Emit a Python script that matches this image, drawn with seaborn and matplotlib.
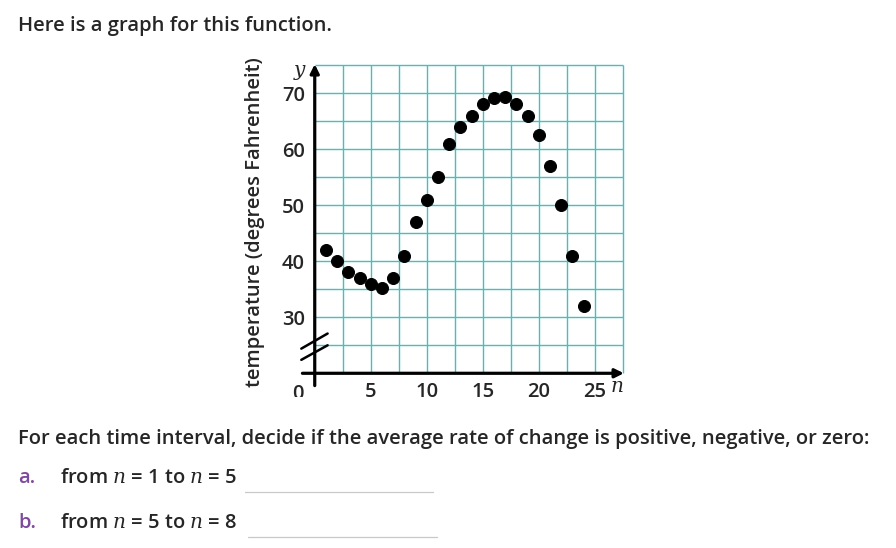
import matplotlib
matplotlib.use("Agg")
import matplotlib.pyplot as plt
import matplotlib.transforms as mtransforms
import seaborn as sns

# data
hours = list(range(1, 25))
temps = [42, 40, 38, 37, 36, 35.2, 37, 41, 47, 51, 55, 61,
         64, 66, 68, 69.1, 69.4, 68, 66, 62.6, 57, 50, 41, 32]
x_ticks = [5, 10, 15, 20, 25]
y_ticks = [30, 40, 50, 60, 70]

title = "Here is a graph for this function."
question = "For each time interval, decide if the average rate of change is positive, negative, or zero:"
part_a = "from $n$ = 1 to $n$ = 5"
part_b = "from $n$ = 5 to $n$ = 8"
y_label = "temperature (degrees Fahrenheit)"

sns.set_style("white")
plt.rcParams["font.family"] = ["Open Sans", "DejaVu Sans"]
plt.rcParams["mathtext.fontset"] = "dejavuserif"

W, H = 896, 548
FS = 14.5
WT = "semibold"
fig = plt.figure(figsize=(W / 100, H / 100), dpi=100)


def px(x, y):
    return x / W, 1 - y / H


# axes box placed so that x=0 sits at 315px and y=20 at 373px
x0, x1 = -1.2, 27.8
y0, y1 = 17.8, 75.5
ax = fig.add_axes([301.3 / W, (H - 385.6) / H, 324.8 / W, 323.1 / H])
ax.set_xlim(x0, x1)
ax.set_ylim(y0, y1)
for s in ax.spines.values():
    s.set_visible(False)

grid_col = "#45bfc0"
ax.vlines([2.5 * i for i in range(1, 12)], 20, 75, color=grid_col, lw=1.0, zorder=1)
ax.hlines([5 * i for i in range(5, 16)], 0, 27.5, color=grid_col, lw=1.0, zorder=1)

# axes with arrows
arr = dict(arrowstyle="-|>", lw=2.3, color="black", mutation_scale=13,
           shrinkA=0, shrinkB=0)
ax.annotate("", xy=(0, 75.2), xytext=(0, y0), arrowprops=arr, zorder=3)
ax.annotate("", xy=(27.6, 20), xytext=(-1.1, 20), arrowprops=arr, zorder=3)

# axis break marks
ax.plot([-1.2, 1.15], [24.4, 27.1], color="black", lw=1.8, zorder=4, clip_on=False)
ax.plot([-1.2, 1.15], [22.4, 25.0], color="black", lw=1.8, zorder=4, clip_on=False)

sns.scatterplot(x=hours, y=temps, color="black", s=75, edgecolor=None,
                zorder=5, clip_on=False, ax=ax, legend=False)

ax.set_xticks(x_ticks)
ax.set_yticks(y_ticks)
ax.set_xticklabels([str(v) for v in x_ticks], fontsize=FS, fontweight=WT)
ax.set_yticklabels([str(v) for v in y_ticks], fontsize=FS, fontweight=WT)
ax.tick_params(axis="x", length=0, pad=-2.5)
ax.tick_params(axis="y", length=0, pad=-2.7)

serif_it = dict(family="DejaVu Serif", style="italic", fontsize=FS)
ax.text(-0.85, 74.0, "y", ha="right", va="center", **serif_it)
n_lab = ax.text(26.4, 17.6, "n", ha="left", va="center", **serif_it)
zero_lab = ax.text(-1.5, 18.0, "0", ha="center", va="top", fontsize=FS, fontweight=WT)

# the screenshot is cut just under the x tick labels
cut = mtransforms.TransformedBbox(
    mtransforms.Bbox.from_extents(0, (H - 397) / H, 1, 1), fig.transFigure)
for t in ax.get_xticklabels() + [n_lab, zero_lab]:
    t.set_clip_box(cut)
    t.set_clip_on(True)

txt = dict(ha="left", va="baseline", fontsize=FS, fontweight=WT)
fig.text(*px(255, 222), y_label, rotation=90, ha="center", va="center",
         fontsize=FS, fontweight=WT)

fig.text(*px(18, 30.5), title, **txt)
fig.text(*px(18, 444), question, **txt)

purple = "#7d4b9b"
fig.text(*px(18, 483), "a.", color=purple, **txt)
fig.text(*px(60, 483), part_a, **txt)
fig.text(*px(18, 528), "b.", color=purple, **txt)
fig.text(*px(60, 528), part_b, **txt)

line_col = "#c8c8c8"
fig.add_artist(plt.Line2D([245 / W, 433 / W], [1 - 492 / H] * 2, color=line_col, lw=0.9))
fig.add_artist(plt.Line2D([248 / W, 437 / W], [1 - 537 / H] * 2, color=line_col, lw=0.9))

fig.savefig("out.png", dpi=100)
